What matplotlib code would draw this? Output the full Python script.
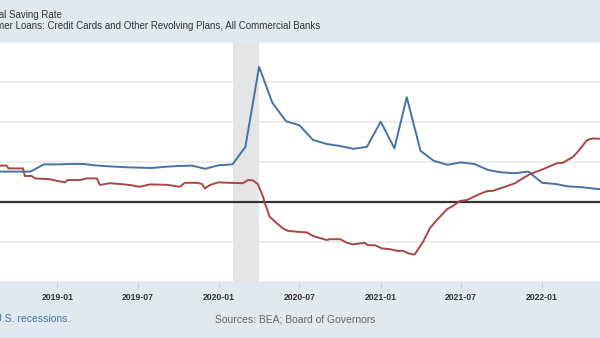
import pandas as pd
import matplotlib.pyplot as plt
import matplotlib.dates as mdates

plt.rcParams['font.family'] = ['Liberation Sans', 'DejaVu Sans']

# Personal Saving Rate (monthly, percent)
saving_dates = pd.date_range('2018-08-01', '2022-06-01', freq='MS')
saving_rate = [7.6, 7.6, 7.6, 7.6, 9.4,
               9.4, 9.5, 9.5, 9.1, 8.9, 8.7, 8.6, 8.5, 8.8, 9.0, 9.1, 8.3,
               9.2, 9.4, 13.8, 33.8, 24.8, 20.2, 19.2, 15.5, 14.5, 14.0, 13.3, 13.8,
               20.1, 13.4, 26.2, 12.8, 10.3, 9.3, 9.9, 9.5, 8.0, 7.4, 7.2, 7.6,
               4.8, 4.5, 3.9, 3.7, 3.3, 3.0]

# Credit card loans, percent change from year ago (weekly)
card_dates = pd.to_datetime([
    '2018-08-17', '2018-09-08', '2018-09-12', '2018-10-15', '2018-10-19', '2018-11-04',
    '2018-11-11', '2018-12-15', '2019-01-02', '2019-01-18', '2019-01-24', '2019-02-21',
    '2019-03-08', '2019-03-31', '2019-04-07', '2019-04-29', '2019-05-22', '2019-06-14',
    '2019-07-06', '2019-07-29', '2019-09-05', '2019-10-05', '2019-10-16', '2019-11-12',
    '2019-11-24', '2019-11-30', '2019-12-12', '2019-12-30', '2020-01-26', '2020-02-24',
    '2020-03-07', '2020-03-18', '2020-03-29', '2020-04-10', '2020-04-14', '2020-04-25',
    '2020-05-11', '2020-05-25', '2020-06-05', '2020-07-02', '2020-07-18', '2020-08-01',
    '2020-09-01', '2020-09-08', '2020-10-01', '2020-10-17', '2020-10-30', '2020-11-26',
    '2020-12-03', '2020-12-19', '2021-01-04', '2021-01-22', '2021-02-07', '2021-02-20',
    '2021-03-04', '2021-03-15', '2021-03-19', '2021-04-07', '2021-04-22', '2021-05-08',
    '2021-05-31', '2021-06-13', '2021-06-29', '2021-07-15', '2021-08-13', '2021-08-29',
    '2021-09-12', '2021-10-14', '2021-11-01', '2021-11-12', '2021-12-05', '2022-01-03',
    '2022-02-04', '2022-02-17', '2022-03-12', '2022-03-23', '2022-04-13', '2022-04-26',
    '2022-05-12', '2022-05-25'])
card_change = [9.1, 9.1, 8.4, 8.4, 6.5, 6.5,
               5.9, 5.7, 5.25, 4.9, 5.5, 5.5,
               5.9, 5.9, 4.25, 4.7, 4.5, 4.25,
               3.8, 4.4, 4.3, 3.8, 4.8, 4.8,
               4.5, 3.4, 4.25, 4.9, 4.8, 4.7,
               5.5, 5.4, 4.5, 1.3, -0.3, -3.7,
               -5.3, -6.6, -7.2, -7.5, -7.6, -8.5,
               -9.5, -9.3, -9.3, -10.2, -10.6, -10.2,
               -10.8, -10.8, -11.6, -11.8, -12.2, -12.2,
               -12.8, -13.1, -13.1, -9.9, -6.6, -4.5,
               -1.8, -1.0, 0.25, 0.5, 2.0, 2.7,
               2.8, 4.0, 4.7, 5.5, 7.0, 8.2,
               9.7, 9.8, 11.3, 12.6, 15.5, 15.9,
               15.8, 15.8]

tick_dates = pd.to_datetime(['2019-01-01', '2019-07-01', '2020-01-01', '2020-07-01',
                             '2021-01-01', '2021-07-01', '2022-01-01'])
recession = (pd.Timestamp('2020-02-01'), pd.Timestamp('2020-04-01'))

W, H = 600, 338
fig = plt.figure(figsize=(W / 100, H / 100), dpi=100, facecolor='#e1e9f0')
ax = fig.add_axes([0, 1 - 282 / H, 1, (282 - 42) / H])
ax.set_facecolor('white')

ax.axvspan(recession[0], recession[1], color='#e5e5e5', lw=0, zorder=0)
ax.axhline(0, color='#333333', lw=1.6, zorder=2)
ax.plot(saving_dates, saving_rate, color='#4572a7', lw=1.4, zorder=3)
ax.plot(card_dates, card_change, color='#aa4643', lw=1.4, zorder=3)

ax.set_xlim(pd.Timestamp('2018-08-24'), pd.Timestamp('2022-05-12'))
ax.set_ylim(-20, 40)
ax.set_yticks([-20, -10, 0, 10, 20, 30, 40])
ax.set_yticklabels([])
ax.yaxis.grid(True, color='#e8e8e8', lw=1.1)
ax.set_axisbelow(True)
ax.tick_params(axis='y', length=0)

ax.set_xticks(tick_dates)
ax.xaxis.set_major_formatter(mdates.DateFormatter('%Y-%m'))
ax.tick_params(axis='x', length=4, width=0.8, color='#c5d3e0', labelsize=6.2,
               labelcolor='#333333', pad=4)
for lab in ax.get_xticklabels():
    lab.set_fontweight('bold')
for s in ax.spines.values():
    s.set_visible(False)

# legend lines (left part cut off by the frame)
fig.text(62 / W, 1 - 15 / H, 'Personal Saving Rate', ha='right', va='center',
         fontsize=7, color='#333333')
fig.text(320 / W, 1 - 26 / H,
         'Consumer Loans: Credit Cards and Other Revolving Plans, All Commercial Banks',
         ha='right', va='center', fontsize=7, color='#333333')

fig.text(70 / W, 1 - 319 / H, 'Shaded areas indicate U.S. recessions.', ha='right',
         va='center', fontsize=7.5, color='#4572a7')
fig.text(215 / W, 1 - 319 / H, 'Sources: BEA; Board of Governors', ha='left',
         va='center', fontsize=7.5, color='#666666')

fig.savefig('out.png', dpi=100, facecolor=fig.get_facecolor())
